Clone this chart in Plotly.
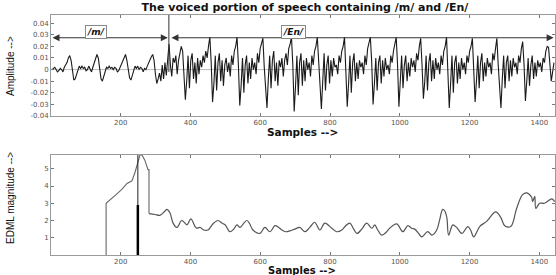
import numpy as np
import plotly.graph_objects as go

# ---------------- data ----------------
# speech amplitude, digitised every 3.9 samples starting at sample 3
amp_m = [
    0.000, 0.001, 0.002, 0.000, -0.002, -0.001, 0.001, 0.000, -0.002, 0.002,
    0.004, 0.006, 0.010, 0.012, 0.008, -0.002, -0.009, -0.008, -0.004, 0.000,
    0.003, 0.001, 0.003, 0.001, 0.002, -0.001, 0.000, 0.003, 0.001, -0.002,
    0.002, 0.006, 0.009, 0.013, 0.010, 0.002, -0.008, -0.010, -0.006, -0.002,
    0.002, 0.001, 0.003, 0.001, 0.002, 0.000, 0.002, 0.001, -0.002, -0.001,
    0.002, 0.005, 0.008, 0.010, 0.013, 0.008, 0.000, -0.007, -0.009, -0.005,
    -0.001, 0.003, 0.001, 0.003, 0.000, 0.002, 0.001, -0.002, 0.001, 0.000,
    0.003, 0.006, 0.008, 0.011, 0.013, 0.008, -0.004, -0.012, -0.008, -0.003,
    -0.010, 0.004, -0.008, 0.006, -0.005, 0.008,
]
amp_en = [
    0.022, 0.004, -0.006, 0.010, 0.006, 0.012, -0.004, 0.008, 0.014, 0.020,
    0.016, -0.012, -0.026, -0.010, 0.012, -0.016, 0.008, 0.014, -0.008, 0.006,
    -0.012, 0.010, -0.004, 0.008, 0.002, 0.012, 0.006, 0.016, 0.010, 0.020,
    0.028,
    0.006, -0.028, -0.012, 0.012, -0.018, 0.006, 0.014, -0.010, 0.008, -0.014,
    0.004, 0.010, -0.002, 0.006, -0.006, 0.012, 0.004, 0.016, 0.020, 0.028,
    0.004, -0.031, -0.014, 0.010, -0.020, 0.004, 0.012, -0.012, 0.006, -0.008,
    0.010, 0.000, 0.006, -0.004, 0.014, 0.006, 0.018, 0.022, 0.027,
    0.002, -0.018, -0.033, -0.008, 0.012, -0.016, 0.008, 0.016, -0.010, 0.006,
    -0.014, 0.008, 0.002, 0.010, -0.006, 0.008, 0.014, 0.004, 0.018, 0.022, 0.028,
    0.004, -0.036, -0.014, 0.012, -0.022, 0.006, 0.014, -0.014, 0.008, -0.010,
    0.010, 0.000, 0.006, -0.006, 0.012, 0.004, 0.016, 0.020, 0.028,
    0.006, -0.020, -0.034, -0.010, 0.014, -0.018, 0.004, 0.012, -0.012, 0.008,
    -0.006, 0.010, 0.002, 0.004, -0.004, 0.012, 0.006, 0.016, 0.020, 0.028,
    0.004, -0.032, -0.012, 0.012, -0.020, 0.006, 0.014, -0.010, 0.006, -0.008,
    0.008, 0.002, 0.006, -0.004, 0.012, 0.004, 0.018, 0.022, 0.028,
    0.006, -0.030, -0.012, 0.010, -0.018, 0.006, 0.012, -0.012, 0.008, -0.006,
    0.010, 0.000, 0.004, -0.004, 0.012, 0.006, 0.016, 0.022, 0.028,
    0.004, -0.032, -0.010, 0.012, -0.016, 0.004, 0.012, -0.010, 0.006, -0.006,
    0.010, 0.002, 0.008, -0.002, 0.014, 0.008, 0.020, 0.027,
    0.004, -0.025, -0.010, 0.012, -0.018, 0.006, 0.014, -0.010, 0.008, -0.008,
    0.010, 0.000, 0.006, -0.004, 0.012, 0.004, 0.016, 0.020, 0.028,
    0.004, -0.033, -0.012, 0.012, -0.020, 0.006, 0.012, -0.012, 0.006, -0.008,
    0.010, 0.000, 0.006, -0.004, 0.012, 0.006, 0.016, 0.020, 0.027,
    0.002, -0.028, -0.010, 0.012, -0.016, 0.006, 0.014, -0.010, 0.006, -0.006,
    0.010, 0.002, 0.006, -0.004, 0.014, 0.008, 0.018, 0.027,
    0.004, -0.020, -0.033, -0.008, 0.012, -0.016, 0.006, 0.012, -0.010, 0.008,
    -0.006, 0.010, 0.002, 0.006, -0.004, 0.012, 0.006, 0.018, 0.024,
    0.004, -0.027, -0.010, 0.010, -0.014, 0.004, 0.012, -0.008, 0.006, -0.006,
    0.008, 0.002, 0.006, -0.002, 0.010, 0.006, 0.016, 0.020, 0.019,
    0.004, -0.010, -0.002, 0.006,
]
sample_start = 3.0
sample_step = 3.9

# EDML magnitude curve (sample, value): sharp onset part, then smooth part
edml_onset_x = [158, 158, 189, 203, 218, 232, 241, 249, 255, 261, 269, 278, 281, 281]
edml_onset_y = [0.0, 3.0, 3.55, 3.8, 4.15, 4.3, 4.8, 5.4, 5.8, 5.8, 5.5, 4.95, 4.95, 2.4]
edml_x = [281, 298, 312, 327, 332, 341, 350, 361, 375, 390, 401, 413, 418, 427, 438,
          450, 464, 479, 490, 499, 513, 524, 533, 542, 553, 562, 570, 579, 599,
          613, 628, 642, 653, 662, 673, 685, 699, 713, 728, 742, 756, 771, 785,
          805, 819, 834, 845, 857, 868, 877, 891, 905, 920, 928, 937, 948, 960,
          971, 991, 1009, 1023, 1034, 1043, 1054, 1063, 1080, 1092, 1106, 1115,
          1123, 1129, 1135, 1140, 1152, 1163, 1178, 1195, 1203, 1212, 1229, 1249,
          1275, 1289, 1301, 1318, 1335, 1352, 1364, 1378, 1381, 1387, 1390, 1401,
          1415, 1436, 1444]
edml_y = [2.4, 2.35, 2.3, 2.55, 2.65, 2.45, 1.85, 1.6, 2.0, 1.75, 2.1, 1.65, 1.55, 1.6, 1.45,
          1.45, 1.8, 2.0, 1.85, 1.75, 1.35, 1.5, 1.75, 1.6, 1.85, 2.0, 1.8, 1.45, 1.25,
          1.6, 1.35, 1.7, 1.6, 1.45, 1.35, 1.4, 1.5, 1.6, 1.35, 1.6, 1.9, 1.45, 1.85,
          1.55, 1.35, 1.45, 1.7, 1.85, 1.5, 1.25, 1.5, 1.85, 1.55, 1.75, 1.45, 1.15, 1.3,
          1.55, 1.8, 1.35, 1.7, 1.55, 1.5, 1.25, 1.05, 1.35, 1.15, 1.45, 2.1,
          2.65, 2.55, 2.15, 1.15, 1.75, 1.6, 1.25, 1.65, 1.45, 1.05, 1.65, 1.95,
          2.5, 2.2, 1.7, 1.65, 2.7, 3.5, 3.6, 3.35, 3.1, 3.4, 2.7, 3.0,
          3.0, 3.25, 3.1]

# segment markers
m_span = [0, 335]
en_span = [341, 1441]
boundary = 338
span_level = 0.0274
label_level = 0.0323
m_label_x = 130
en_label_x = 695
marker_x = 249
marker_strong_top = 2.9

x_ticks = [200, 400, 600, 800, 1000, 1200, 1400]
amp_ticks = [-0.04, -0.03, -0.02, -0.01, 0, 0.01, 0.02, 0.03, 0.04]
amp_tick_text = ["-0.04", "-0.03", "-0.02", "-0.01", "0", "0.01", "0.02", "0.03", "0.04"]
edml_ticks = [1, 2, 3, 4, 5]

amplitude = amp_m + amp_en
samples = sample_start + sample_step * np.arange(len(amplitude))

# ---------------- figure ----------------
fig = go.Figure()
fig.add_trace(go.Scatter(x=samples, y=amplitude, mode="lines",
                         line=dict(color="#1a1a1a", width=1.1),
                         xaxis="x", yaxis="y", showlegend=False))
fig.add_trace(go.Scatter(x=edml_onset_x, y=edml_onset_y, mode="lines",
                         line=dict(color="#666666", width=1.1),
                         xaxis="x2", yaxis="y2", showlegend=False))
fig.add_trace(go.Scatter(x=edml_x, y=edml_y, mode="lines",
                         line=dict(color="#555555", width=1.2, shape="spline", smoothing=1.0),
                         xaxis="x2", yaxis="y2", showlegend=False))

tickfont = dict(family="DejaVu Sans", size=7, color="#555555")
axis_common = dict(showline=True, linecolor="#9a9a9a", linewidth=1, mirror="ticks",
                   ticks="inside", ticklen=3, tickcolor="#777777",
                   showgrid=False, zeroline=False, tickfont=tickfont)

fig.update_layout(
    width=556, height=275,
    margin=dict(l=51, r=1, t=15, b=20),
    paper_bgcolor="white", plot_bgcolor="white",
    xaxis=dict(domain=[0, 1], range=[0, 1445], tickvals=x_ticks, anchor="y", **axis_common),
    yaxis=dict(domain=[0.579, 1], range=[-0.04, 0.047], tickvals=amp_ticks,
               ticktext=amp_tick_text, anchor="x", **axis_common),
    xaxis2=dict(domain=[0, 1], range=[0, 1445], tickvals=x_ticks, anchor="y2", **axis_common),
    yaxis2=dict(domain=[0, 0.4167], range=[0, 5.8], tickvals=edml_ticks, anchor="x2",
                **axis_common),
    title=dict(text="<b>The voiced portion of speech containing /m/ and /En/</b>",
               x=305 / 556, xanchor="center", y=1 - 7 / 275, yanchor="middle",
               font=dict(family="DejaVu Sans", size=11, color="#111111")),
)

# zero line of the upper plot
fig.add_shape(type="line", xref="x", yref="y", x0=0, x1=1445, y0=0, y1=0,
              line=dict(color="#aaaaaa", width=0.8), layer="below")
# segment boundary
fig.add_shape(type="line", xref="x", yref="y", x0=boundary, x1=boundary,
              y0=-0.002, y1=0.047, line=dict(color="#333333", width=1))
# spans with arrows
for span in (m_span, en_span):
    fig.add_annotation(x=span[1], y=span_level, ax=span[0], ay=span_level,
                       xref="x", yref="y", axref="x", ayref="y", text="",
                       showarrow=True, arrowhead=2, startarrowhead=2,
                       arrowside="end+start", arrowsize=1.4, startarrowsize=1.4,
                       arrowwidth=1, arrowcolor="#333333")
for lx, txt in ((m_label_x, "/m/"), (en_label_x, "/En/")):
    fig.add_annotation(x=lx, y=label_level, xref="x", yref="y",
                       text="<b><i>" + txt + "</i></b>", showarrow=False,
                       font=dict(family="DejaVu Sans", size=9, color="#111111"),
                       bgcolor="white", bordercolor="#888888", borderwidth=1, borderpad=1)

# marker lines in the lower plot
fig.add_shape(type="line", xref="x2", yref="y2", x0=marker_x, x1=marker_x, y0=0, y1=5.8,
              line=dict(color="#222222", width=1))
fig.add_shape(type="line", xref="x2", yref="y2", x0=marker_x, x1=marker_x, y0=0,
              y1=marker_strong_top, line=dict(color="#000000", width=2.5))

# axis titles
lab = dict(family="DejaVu Sans", size=10.5, color="#111111")
fig.add_annotation(text="<b>Samples --></b>", xref="paper", yref="paper",
                   x=(302 - 51) / 504, y=(255 - 131.5) / 240, showarrow=False, font=lab,
                   xanchor="center", yanchor="middle")
fig.add_annotation(text="<b>Samples --></b>", xref="paper", yref="paper",
                   x=(302 - 51) / 504, y=(255 - 270.5) / 240, showarrow=False,
                   font=dict(family="DejaVu Sans", size=10, color="#111111"),
                   xanchor="center", yanchor="middle")
fig.add_annotation(text="Amplitude -->", xref="paper", yref="paper",
                   x=(10 - 51) / 504, y=(255 - 66) / 240, textangle=-90, showarrow=False,
                   font=dict(family="Arial", size=10, color="#111111"),
                   xanchor="center", yanchor="middle")
fig.add_annotation(text="EDML magnitude -->", xref="paper", yref="paper",
                   x=(10 - 51) / 504, y=(255 - 198) / 240, textangle=-90, showarrow=False,
                   font=dict(family="Arial", size=10, color="#111111"),
                   xanchor="center", yanchor="middle")

fig.write_html("out.html", config={"displayModeBar": False},
               post_script="document.body.style.margin='0';")
